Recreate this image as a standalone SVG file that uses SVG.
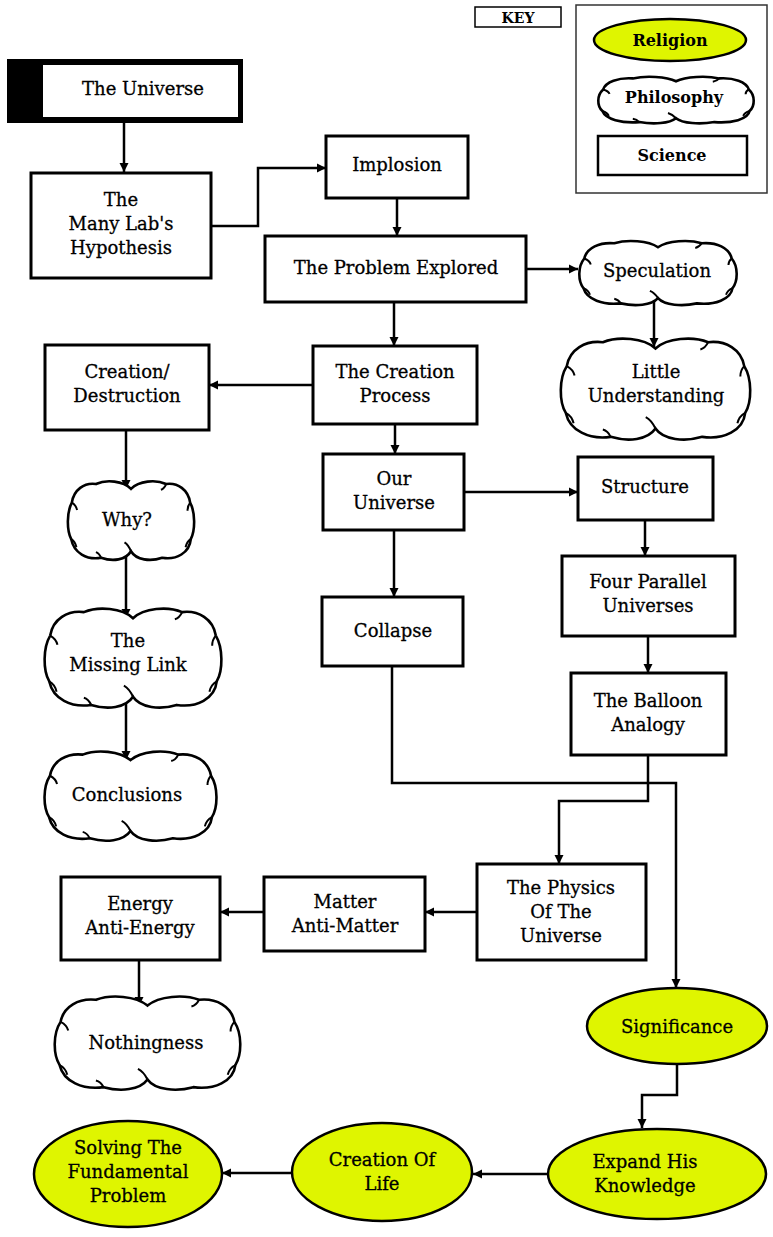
<svg xmlns="http://www.w3.org/2000/svg" xmlns:xlink="http://www.w3.org/1999/xlink" width="773" height="1237" viewBox="0 0 773 1237">
<style>
.box{fill:#fff;stroke:#000;stroke-width:3}
.rel{fill:#dff500;stroke:#000;stroke-width:2.5}
.t{font-family:"DejaVu Serif","Liberation Serif",serif;font-size:18px;fill:#000;stroke:#000;stroke-width:0.3;text-anchor:middle}
.kt{font-family:"DejaVu Serif","Liberation Serif",serif;font-size:16px;font-weight:bold;fill:#000;text-anchor:middle}
.con{fill:none;stroke:#000;stroke-width:2.5}
</style>
<defs>
<marker id="ah" viewBox="0 0 10 10" refX="10" refY="5" markerWidth="9" markerHeight="11" markerUnits="userSpaceOnUse" orient="auto">
<path d="M0,0 L10,5 L0,10 z" fill="#000"/>
</marker>
<symbol id="cloud" viewBox="0 0 200 100" preserveAspectRatio="none" overflow="visible">
<path vector-effect="non-scaling-stroke" fill="#fff" stroke="#000" stroke-width="2.6" d="M100 11 C88 1,62 -1,46 5 C28 3,12 12,9 28 C1 40,1 62,8 73 C12 90,32 99,54 96 C72 101,92 99,100 88 C108 99,130 101,148 96 C170 99,190 90,192 73 C199 62,199 40,191 28 C188 12,172 3,154 5 C138 -1,112 1,100 11 Z"/>
<path vector-effect="non-scaling-stroke" fill="none" stroke="#000" stroke-width="2" d="M100 88 C97 82,94 79,90 77 M9 28 C13 30,16 33,17 37 M192 73 C188 75,185 79,184 83 M54 96 C52 92,50 90,46 89 M154 5 C152 9,150 11,146 12 M8 73 C12 75,15 79,16 83 M191 28 C188 31,187 34,187 38"/>
</symbol>
</defs>

<g id="connectors">
<path class="con" d="M124 123 V172" marker-end="url(#ah)"/>
<path class="con" d="M211 226 H258 V168 H326" marker-end="url(#ah)"/>
<path class="con" d="M397 198 V236" marker-end="url(#ah)"/>
<path class="con" d="M526 269 H578" marker-end="url(#ah)"/>
<path class="con" d="M654 298 V347" marker-end="url(#ah)"/>
<path class="con" d="M394 302 V346" marker-end="url(#ah)"/>
<path class="con" d="M313 385 H209" marker-end="url(#ah)"/>
<path class="con" d="M126 430 V489" marker-end="url(#ah)"/>
<path class="con" d="M126 550 V618" marker-end="url(#ah)"/>
<path class="con" d="M126 696 V760" marker-end="url(#ah)"/>
<path class="con" d="M395 424 V454" marker-end="url(#ah)"/>
<path class="con" d="M464 492 H578" marker-end="url(#ah)"/>
<path class="con" d="M645 520 V556" marker-end="url(#ah)"/>
<path class="con" d="M648 636 V673" marker-end="url(#ah)"/>
<path class="con" d="M394 530 V597" marker-end="url(#ah)"/>
<path class="con" d="M392 666 V783 H676 V988" marker-end="url(#ah)"/>
<path class="con" d="M648 755 V801 H559 V864" marker-end="url(#ah)"/>
<path class="con" d="M477 912 H425" marker-end="url(#ah)"/>
<path class="con" d="M264 912 H220" marker-end="url(#ah)"/>
<path class="con" d="M139 960 V1006" marker-end="url(#ah)"/>
<path class="con" d="M677 1064 V1095 H642 V1128" marker-end="url(#ah)"/>
<path class="con" d="M548 1174 H473" marker-end="url(#ah)"/>
<path class="con" d="M292 1173 H222" marker-end="url(#ah)"/>
</g>

<g id="key-label"><rect x="475" y="7" width="86" height="20" fill="#fff" stroke="#000" stroke-width="1.5"/><text class="kt" x="518" y="23" style="font-size:14px">KEY</text></g>
<g id="key">
<rect x="576" y="5" width="191" height="188" fill="#fff" stroke="#333" stroke-width="1.5"/>
<ellipse class="rel" cx="670" cy="40" rx="76" ry="21"/>
<text class="kt" x="670" y="46">Religion</text>
<use xlink:href="#cloud" x="596" y="76" width="160" height="48"/>
<text class="kt" x="674" y="103">Philosophy</text>
<rect x="598" y="136" width="149" height="39" fill="#fff" stroke="#000" stroke-width="2.5"/>
<text class="kt" x="672" y="161">Science</text>
</g>

<g id="the-universe"><rect x="7" y="59" width="236" height="64" fill="#000"/><rect x="43" y="65" width="195" height="52" fill="#fff"/><text class="t" x="143" y="95">The Universe</text></g>
<g id="many-labs"><rect class="box" x="31" y="173" width="180" height="105"/><text class="t" x="121" y="206">The</text><text class="t" x="121" y="230">Many Lab's</text><text class="t" x="121" y="254">Hypothesis</text></g>
<g id="implosion"><rect class="box" x="326" y="136" width="142" height="62"/><text class="t" x="397" y="171">Implosion</text></g>
<g id="problem-explored"><rect class="box" x="265" y="236" width="261" height="66"/><text class="t" x="396" y="274">The Problem Explored</text></g>
<g id="speculation"><use xlink:href="#cloud" x="577" y="240" width="162" height="66"/><text class="t" x="657" y="277">Speculation</text></g>
<g id="little-understanding"><use xlink:href="#cloud" x="558" y="337" width="195" height="104"/><text class="t" x="656" y="378">Little</text><text class="t" x="656" y="402">Understanding</text></g>
<g id="creation-process"><rect class="box" x="313" y="346" width="164" height="78"/><text class="t" x="395" y="378">The Creation</text><text class="t" x="395" y="402">Process</text></g>
<g id="creation-destruction"><rect class="box" x="45" y="345" width="164" height="85"/><text class="t" x="127" y="378">Creation/</text><text class="t" x="127" y="402">Destruction</text></g>
<g id="why"><use xlink:href="#cloud" x="66" y="480" width="130" height="81"/><text class="t" x="127" y="526">Why?</text></g>
<g id="missing-link"><use xlink:href="#cloud" x="42" y="607" width="182" height="102"/><text class="t" x="128" y="647">The</text><text class="t" x="128" y="671">Missing Link</text></g>
<g id="conclusions"><use xlink:href="#cloud" x="42" y="750" width="177" height="92"/><text class="t" x="127" y="801">Conclusions</text></g>
<g id="our-universe"><rect class="box" x="323" y="454" width="141" height="76"/><text class="t" x="394" y="485">Our</text><text class="t" x="394" y="509">Universe</text></g>
<g id="structure"><rect class="box" x="578" y="457" width="135" height="63"/><text class="t" x="645" y="493">Structure</text></g>
<g id="four-parallel"><rect class="box" x="562" y="556" width="173" height="80"/><text class="t" x="648" y="588">Four Parallel</text><text class="t" x="648" y="612">Universes</text></g>
<g id="balloon"><rect class="box" x="571" y="673" width="155" height="82"/><text class="t" x="648" y="707">The Balloon</text><text class="t" x="648" y="731">Analogy</text></g>
<g id="collapse"><rect class="box" x="322" y="597" width="141" height="69"/><text class="t" x="393" y="637">Collapse</text></g>
<g id="physics"><rect class="box" x="477" y="864" width="169" height="96"/><text class="t" x="561" y="894">The Physics</text><text class="t" x="561" y="918">Of The</text><text class="t" x="561" y="942">Universe</text></g>
<g id="matter"><rect class="box" x="264" y="877" width="161" height="74"/><text class="t" x="345" y="908">Matter</text><text class="t" x="345" y="932">Anti-Matter</text></g>
<g id="energy"><rect class="box" x="61" y="877" width="159" height="83"/><text class="t" x="140" y="910">Energy</text><text class="t" x="140" y="934">Anti-Energy</text></g>
<g id="nothingness"><use xlink:href="#cloud" x="52" y="995" width="191" height="96"/><text class="t" x="146" y="1049">Nothingness</text></g>
<g id="significance"><ellipse class="rel" cx="677" cy="1026" rx="90" ry="38"/><text class="t" x="677" y="1033">Significance</text></g>
<g id="expand"><ellipse class="rel" cx="657" cy="1174" rx="109" ry="45"/><text class="t" x="645" y="1168">Expand His</text><text class="t" x="645" y="1192">Knowledge</text></g>
<g id="creation-of-life"><ellipse class="rel" cx="382" cy="1172" rx="90" ry="49"/><text class="t" x="382" y="1166">Creation Of</text><text class="t" x="382" y="1190">Life</text></g>
<g id="solving"><ellipse class="rel" cx="128" cy="1174" rx="94" ry="53"/><text class="t" x="128" y="1154">Solving The</text><text class="t" x="128" y="1178">Fundamental</text><text class="t" x="128" y="1202">Problem</text></g>
</svg>
